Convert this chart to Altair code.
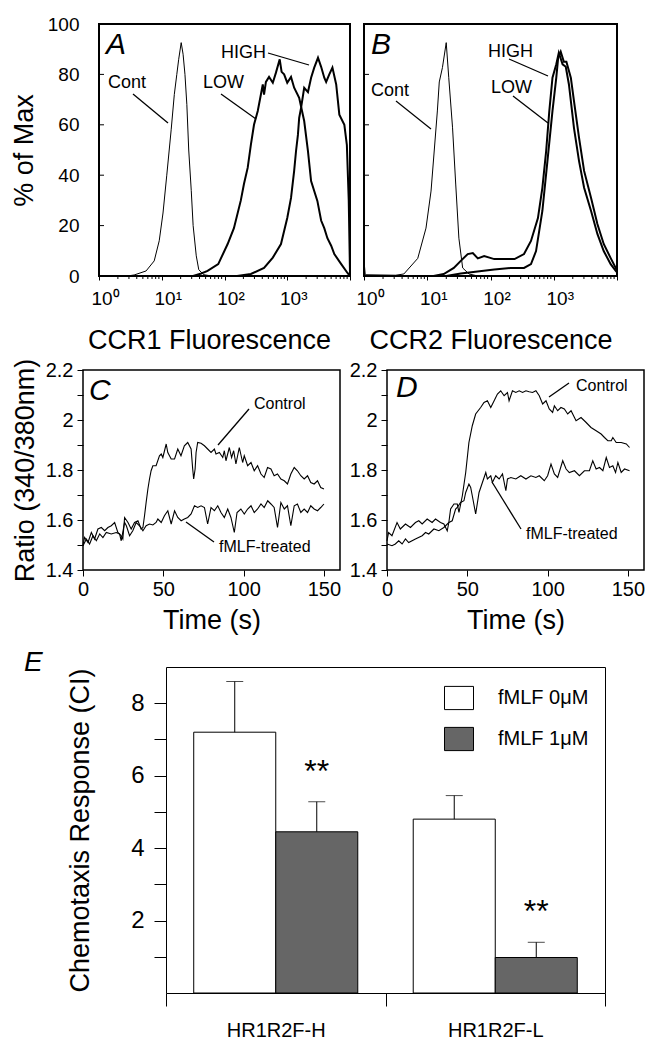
import altair as alt
import pandas as pd
import numpy as np

FONT = "Liberation Sans"

# ---------------- Panels A / B : flow cytometry histograms (x = log10 fluorescence) ----------------
cont_a = [(0, 0), (0.45, 0), (0.56, 0.4), (0.75, 2), (0.88, 6), (0.96, 14), (1.02, 25), (1.08, 40),
          (1.15, 58), (1.2, 72), (1.24, 80), (1.27, 86), (1.31, 92.6), (1.34, 88), (1.37, 80),
          (1.40, 68), (1.43, 50), (1.47, 34), (1.5, 20), (1.55, 8), (1.59, 2.5), (1.67, 0.5),
          (1.8, 0), (4, 0)]
low_a = [(0, 0), (1.5, 0), (1.63, 1), (1.73, 2), (1.9, 4.7), (2.05, 12.7), (2.15, 19), (2.26, 30),
         (2.31, 36.5), (2.37, 43), (2.42, 52), (2.47, 60), (2.53, 65.5), (2.58, 72), (2.61, 76),
         (2.63, 72), (2.66, 77), (2.71, 79), (2.77, 76.7), (2.82, 80.7), (2.88, 86), (2.91, 81),
         (2.95, 80), (3.0, 76.7), (3.06, 79), (3.11, 74.7), (3.19, 70.7), (3.27, 61.5), (3.33, 49.6),
         (3.38, 37.7), (3.48, 29.8), (3.54, 22), (3.59, 19), (3.64, 15), (3.7, 12), (3.75, 8.7),
         (3.86, 4.7), (3.96, 1.2), (4.0, 0)]
high_a = [(0, 0), (2.2, 0), (2.42, 0.8), (2.63, 3.2), (2.77, 7.3), (2.9, 12.7), (3.0, 23), (3.06, 31),
          (3.11, 41.7), (3.14, 49.6), (3.17, 56), (3.19, 62.7), (3.22, 66.7), (3.27, 74.7), (3.33, 73),
          (3.38, 78.7), (3.43, 82.7), (3.49, 86.6), (3.54, 83), (3.59, 78.7), (3.62, 77), (3.67, 80),
          (3.72, 82.7), (3.78, 76), (3.83, 64), (3.91, 60), (3.95, 52), (3.98, 30), (4.0, 1)]
cont_b = [(0, 6), (0.02, 0.5), (0.5, 0.3), (0.63, 0.8), (0.85, 7), (0.98, 19), (1.06, 33.7),
          (1.11, 49.6), (1.16, 65.5), (1.19, 77), (1.24, 82.7), (1.3, 92.6), (1.34, 78.7), (1.4, 58.8),
          (1.45, 36.5), (1.5, 15), (1.56, 3.2), (1.66, 0.8), (1.8, 0), (4, 0)]
low_b = [(0, 0), (1.1, 0), (1.26, 0.8), (1.42, 3.2), (1.53, 6), (1.64, 8.7), (1.72, 9.1), (1.8, 7),
         (1.9, 7.9), (2.06, 6.7), (2.22, 6.7), (2.38, 6.7), (2.53, 8.7), (2.64, 13.9), (2.75, 23),
         (2.82, 35), (2.88, 49.6), (2.93, 65.5), (2.98, 78.7), (3.04, 84), (3.08, 88.6), (3.14, 84),
         (3.19, 83), (3.24, 76), (3.32, 58.7), (3.4, 45.6), (3.48, 35), (3.59, 25.8), (3.69, 16.7),
         (3.79, 9.9), (3.9, 4.7), (3.98, 2), (4, 1.5)]
high_b = [(0, 0), (1.3, 0), (1.53, 1), (2.06, 2.6), (2.32, 3.2), (2.53, 3.2), (2.64, 4.7), (2.72, 9.9),
          (2.82, 25.8), (2.9, 45.6), (2.98, 65.5), (3.04, 78.7), (3.07, 86.6), (3.11, 89), (3.16, 85),
          (3.2, 85), (3.27, 78.7), (3.32, 69.4), (3.4, 54.8), (3.48, 41.7), (3.59, 31), (3.69, 20.6),
          (3.79, 12.7), (3.9, 7.1), (3.98, 3.2), (4, 2.5)]
decade_labels = ["10⁰", "10¹", "10²", "10³"]
pct_ticks = [0, 20, 40, 60, 80, 100]

# ---------------- Panels C / D : calcium flux traces ----------------
ctrl_c = [(0, 1.5), (1, 1.53), (3.1, 1.51), (5.2, 1.55), (7.2, 1.524), (9.3, 1.564), (11.4, 1.57),
          (13.5, 1.557), (15.5, 1.57), (17.6, 1.577), (19.7, 1.59), (21.7, 1.55), (23.8, 1.537),
          (24.8, 1.524), (25.9, 1.61), (28, 1.59), (30, 1.564), (32.1, 1.59), (34.2, 1.597),
          (36.2, 1.564), (37.3, 1.57), (38.3, 1.617), (39.3, 1.67), (40.4, 1.724), (41.4, 1.764),
          (42.4, 1.797), (43.5, 1.817), (45.5, 1.817), (47.6, 1.857), (48.7, 1.864), (49.7, 1.85),
          (51.8, 1.904), (52.8, 1.87), (54.9, 1.844), (57, 1.844), (59, 1.884), (61, 1.857),
          (63.1, 1.897), (65.2, 1.91), (67.3, 1.884), (68.3, 1.804), (68.9, 1.764), (69.8, 1.804),
          (70.4, 1.87), (71.4, 1.91), (73.5, 1.907), (75.6, 1.897), (77.6, 1.884), (79.7, 1.87),
          (81.8, 1.884), (82.8, 1.864), (84.9, 1.87), (87, 1.85), (88, 1.877), (89, 1.837),
          (91.1, 1.89), (92.5, 1.85), (93.8, 1.877), (95.2, 1.824), (97.3, 1.89), (99.4, 1.83),
          (100.4, 1.857), (102.5, 1.817), (104.6, 1.83), (106.6, 1.797), (108.7, 1.817),
          (110.8, 1.784), (112.8, 1.77), (114.9, 1.81), (117, 1.804), (119, 1.777), (121.1, 1.784),
          (123.2, 1.764), (125.3, 1.757), (127.3, 1.744), (129.4, 1.784), (131.5, 1.81),
          (133.5, 1.797), (135.6, 1.777), (137.7, 1.764), (139.8, 1.777), (141.8, 1.75),
          (143.9, 1.744), (146, 1.757), (148, 1.73), (150, 1.724)]
treat_c = [(0, 1.497), (2.1, 1.524), (4.1, 1.504), (6.2, 1.537), (8.3, 1.517), (10.4, 1.544),
           (12.4, 1.53), (14.5, 1.55), (17.6, 1.544), (20.7, 1.55), (22.8, 1.544), (23.8, 1.517),
           (25.9, 1.59), (27, 1.577), (29, 1.537), (31, 1.557), (33.1, 1.59), (35.2, 1.577),
           (37.3, 1.557), (39.3, 1.577), (41.4, 1.584), (43.5, 1.58), (45.5, 1.59), (46.6, 1.604),
           (48.7, 1.59), (50.7, 1.617), (52.8, 1.637), (54.9, 1.584), (57, 1.637), (59, 1.61),
           (61.1, 1.597), (63.1, 1.604), (65.2, 1.61), (67.3, 1.624), (69.4, 1.657), (71.4, 1.65),
           (73.5, 1.657), (75.6, 1.65), (77.6, 1.584), (79.7, 1.65), (81.8, 1.637), (83.9, 1.657),
           (85.9, 1.63), (88, 1.61), (90.1, 1.644), (92.1, 1.61), (94.2, 1.55), (95.9, 1.63),
           (98.3, 1.644), (100.4, 1.624), (102.5, 1.644), (104.6, 1.657), (106.6, 1.63),
           (108.7, 1.644), (110.8, 1.664), (112.8, 1.65), (115, 1.677), (117, 1.664), (119, 1.65),
           (121.1, 1.57), (123.2, 1.67), (125.3, 1.644), (127.3, 1.657), (129.4, 1.577),
           (131.5, 1.657), (133.5, 1.664), (135.6, 1.63), (137.7, 1.644), (139.8, 1.63),
           (141.8, 1.657), (143.9, 1.644), (146, 1.637), (148, 1.65), (150, 1.664)]
ctrl_d = [(0, 1.517), (1, 1.55), (3.1, 1.537), (6.25, 1.59), (8.3, 1.564), (11.5, 1.584), (14.6, 1.57),
          (17.7, 1.59), (19.8, 1.597), (21.9, 1.584), (25, 1.604), (28.1, 1.59), (30.2, 1.604),
          (33.3, 1.59), (35.4, 1.584), (37.5, 1.557), (38.5, 1.59), (39.6, 1.644), (41.7, 1.664),
          (43.75, 1.664), (44.8, 1.63), (46.9, 1.697), (49, 1.79), (51, 1.91), (53.1, 1.977),
          (55.2, 2.024), (58.3, 2.05), (60.4, 2.07), (62.5, 2.077), (64.6, 2.05), (66.7, 2.077),
          (68.75, 2.104), (70.8, 2.117), (72.9, 2.097), (75, 2.11), (76, 2.077), (78.1, 2.117),
          (80.2, 2.11), (82.3, 2.117), (84.4, 2.11), (86.5, 2.117), (88.5, 2.113), (90.6, 2.11),
          (92.7, 2.117), (94.8, 2.097), (96.9, 2.064), (99, 2.077), (101, 2.044), (103.1, 2.03),
          (104.2, 2.057), (106.25, 2.037), (108.3, 2.05), (110.4, 2.044), (112.5, 2.024),
          (114.6, 2.037), (117.7, 1.997), (120.8, 2.01), (124, 1.99), (127, 1.97), (130.2, 1.957),
          (133.3, 1.944), (135.4, 1.93), (137.5, 1.917), (139.6, 1.917), (140.6, 1.93),
          (142.7, 1.91), (145.8, 1.91), (149, 1.904), (151, 1.89)]
treat_d = [(0, 1.504), (3.1, 1.497), (5.2, 1.504), (7.3, 1.517), (9.4, 1.504), (11.5, 1.524),
           (13.5, 1.51), (17.7, 1.524), (21.9, 1.537), (24, 1.55), (26, 1.544), (29.2, 1.564),
           (32.3, 1.557), (35.4, 1.57), (38.5, 1.59), (40.6, 1.597), (42.7, 1.644), (43.75, 1.65),
           (45.8, 1.67), (47.9, 1.677), (49, 1.71), (51, 1.744), (52.1, 1.73), (53.1, 1.697),
           (55.2, 1.624), (57.3, 1.71), (59.4, 1.75), (61.5, 1.79), (62.5, 1.764), (64.6, 1.777),
           (65.6, 1.75), (67.7, 1.777), (69.8, 1.764), (71.9, 1.784), (74, 1.717), (75, 1.764),
           (77.1, 1.77), (80.2, 1.764), (83.3, 1.777), (86.5, 1.764), (89.6, 1.777), (92.7, 1.77),
           (94.8, 1.777), (97.9, 1.757), (100, 1.777), (102.1, 1.824), (104.2, 1.784), (106.25, 1.77),
           (109.4, 1.837), (111.5, 1.804), (113.5, 1.79), (116.7, 1.797), (119.8, 1.777),
           (122.9, 1.797), (126, 1.797), (128.1, 1.837), (130.2, 1.804), (132.3, 1.81),
           (134.4, 1.797), (136.5, 1.85), (138.5, 1.81), (140.6, 1.817), (142.3, 1.79),
           (143.75, 1.83), (145.8, 1.79), (147.9, 1.804), (151, 1.797)]
time_ticks = [0, 50, 100, 150]
ratio_ticks = [1.4, 1.5, 1.6, 1.7, 1.8, 1.9, 2.0, 2.1, 2.2]

# ---------------- Panel E : chemotaxis bars ----------------
groups = ["HR1R2F-H", "HR1R2F-L"]
conditions = ["fMLF 0μM", "fMLF 1μM"]
ci_mean = [7.2, 4.45, 4.8, 0.98]
ci_err = [1.4, 0.83, 0.65, 0.42]
ci_ticks = [1, 2, 3, 4, 5, 6, 7, 8]


# ---------------- helpers ----------------
def one_row():
    return pd.DataFrame({"a": [0]})


def anchor(x1, x2, y1, y2):
    # invisible layout guide that fixes the panel's bounding box
    return alt.Chart(one_row()).mark_rect(opacity=0).encode(
        x=alt.value(x1), x2=alt.value(x2), y=alt.value(y1), y2=alt.value(y2))


def spacer(w):
    return alt.Chart(one_row()).mark_rect(opacity=0).encode(
        x=alt.value(0), x2=alt.value(w), y=alt.value(0), y2=alt.value(1)
    ).properties(width=w, height=1, view=alt.ViewBackground(strokeOpacity=0, fillOpacity=0))


def text_at(txt, x, y, size, italic=False):
    return alt.Chart(pd.DataFrame({"t": [txt]})).mark_text(
        align="left", baseline="alphabetic", font=FONT, fontSize=size,
        fontStyle="italic" if italic else "normal", color="black").encode(
        x=alt.value(x), y=alt.value(y), text="t:N")


def leader(x1, y1, x2, y2, w=1.3):
    return alt.Chart(one_row()).mark_rule(color="black", strokeWidth=w).encode(
        x=alt.value(x1), y=alt.value(y1), x2=alt.value(x2), y2=alt.value(y2))


HIST_H = 252


def hist_panel(width, cont, low, high, xtitle, ytitle, letter, notes, box, title_x=None):
    xsc = alt.Scale(domain=[0, 4], nice=False, zero=False)
    ysc = alt.Scale(domain=[0, 100], nice=False)
    label_expr = " : ".join(
        f"datum.value == {i} ? '{s}'" for i, s in enumerate(decade_labels)) + " : ''"
    xkw = dict(values=[0, 1, 2, 3, 4], labelExpr=label_expr, labelFontSize=19, labelPadding=9,
               tickSize=4, tickColor="black", domain=False, grid=False, labelFlush=False,
               labelOverlap=False, labelOffset=6, title=xtitle, titleFontSize=27, titlePadding=19)
    if title_x is not None:
        xkw["titleX"] = title_x
    xaxis = alt.Axis(**xkw)
    if ytitle:
        yaxis = alt.Axis(values=pct_ticks, labelFontSize=19, labelPadding=20, ticks=False, tickSize=0,
                         domain=False, grid=False, labelFlush=False, title=ytitle, titleFontSize=27,
                         titlePadding=9)
    else:
        yaxis = None
    layers = []
    for pairs, w in [(cont, 1), (low, 2), (high, 2)]:
        df = pd.DataFrame(pairs, columns=["lx", "pct"])
        layers.append(alt.Chart(df).mark_line(color="black", strokeWidth=w).encode(
            x=alt.X("lx:Q", scale=xsc, axis=xaxis),
            y=alt.Y("pct:Q", scale=ysc, axis=yaxis)))
    layers.append(alt.Chart(pd.DataFrame({"pct": pct_ticks[1:-1]})).mark_rule(
        color="black", strokeWidth=1).encode(
        y=alt.Y("pct:Q", scale=ysc, axis=yaxis), x=alt.value(0), x2=alt.value(5)))
    minor = [d + float(np.log10(k)) for d in range(4) for k in range(2, 10)]
    layers.append(alt.Chart(pd.DataFrame({"lx": minor})).mark_rule(
        color="black", strokeWidth=1).encode(
        x=alt.X("lx:Q", scale=xsc, axis=xaxis), y=alt.value(HIST_H), y2=alt.value(HIST_H + 3)))
    layers.append(text_at(letter[0], letter[1], letter[2], 30, italic=True))
    for kind, *args in notes:
        if kind == "t":
            layers.append(text_at(args[0], args[1], args[2], 18))
        else:
            layers.append(leader(*args))
    layers.append(anchor(*box))
    return alt.layer(*layers).properties(
        width=width, height=HIST_H,
        view=alt.ViewBackground(stroke="black", strokeWidth=2, fill="white"))


RATIO_W, RATIO_H = 257, 200


def ratio_panel(ctrl, treat, ytitle, letter, notes, box):
    xsc = alt.Scale(domain=[0, 160], nice=False)
    ysc = alt.Scale(domain=[1.4, 2.2], nice=False, zero=False)
    xaxis = alt.Axis(values=time_ticks, labelFontSize=20, tickSize=6, labelPadding=3,
                     tickColor="black", domain=False, grid=False, labelFlush=False,
                     title="Time (s)", titleFontSize=27, titlePadding=8)
    ykw = dict(values=ratio_ticks,
               labelExpr="round(datum.value * 10) % 2 == 0 ? format(datum.value, '~g') : ''",
               labelFontSize=20, tickSize=6, labelPadding=4, tickColor="black", domain=False,
               grid=False, labelFlush=False)
    if ytitle:
        ykw.update(title=ytitle, titleFontSize=27, titlePadding=6)
    else:
        ykw["title"] = None
    yaxis = alt.Axis(**ykw)
    layers = []
    for pairs in (ctrl, treat):
        df = pd.DataFrame(pairs, columns=["t", "v"])
        layers.append(alt.Chart(df).mark_line(color="black", strokeWidth=1.1).encode(
            x=alt.X("t:Q", scale=xsc, axis=xaxis),
            y=alt.Y("v:Q", scale=ysc, axis=yaxis)))
    layers.append(text_at(letter[0], letter[1], letter[2], 30, italic=True))
    for kind, *args in notes:
        if kind == "t":
            layers.append(text_at(args[0], args[1], args[2], 16))
        else:
            layers.append(leader(*args))
    layers.append(anchor(*box))
    return alt.layer(*layers).properties(
        width=RATIO_W, height=RATIO_H,
        view=alt.ViewBackground(stroke="black", strokeWidth=1.5, fill="white"))


# ---------------- build panels ----------------
panel_a = hist_panel(
    251, cont_a, low_a, high_a, "CCR1 Fluorescence", "% of Max", ("A", 7, 30),
    [("t", "Cont", 9, 63.5), ("l", 34, 70, 69, 99),
     ("t", "LOW", 104, 63.5), ("l", 122, 70, 157, 95),
     ("t", "HIGH", 122, 33.5), ("l", 169, 29, 210, 41)],
    (-90, 256, -15, 345), title_x=110)

panel_b = hist_panel(
    253, cont_b, low_b, high_b, "CCR2 Fluorescence", None, ("B", 7, 30),
    [("t", "Cont", 7, 71.5), ("l", 32, 77, 67, 105),
     ("t", "HIGH", 124, 32.5), ("l", 145, 35, 184, 52),
     ("t", "LOW", 127, 68.5), ("l", 149, 72, 184, 99)],
    (-20, 280, -15, 345))

panel_c = ratio_panel(
    ctrl_c, treat_c, "Ratio (340/380nm)", ("C", 6, 30),
    [("t", "Control", 171, 38.7), ("l", 166, 39, 135, 75),
     ("t", "fMLF-treated", 136, 181.7), ("l", 103, 152, 131, 172)],
    (-74, 262, -32, 296))

panel_d = ratio_panel(
    ctrl_d, treat_d, None, ("D", 9, 27),
    [("t", "Control", 189, 20.7), ("l", 182, 13, 162, 27),
     ("t", "fMLF-treated", 139, 168.7), ("l", 105, 112, 134, 159)],
    (-46, 257, -32, 296))

# panel E
E_H = 326
bar_df = pd.DataFrame({
    "group": [g for g in groups for _ in conditions],
    "cond": conditions * len(groups),
    "mean": ci_mean,
    "err": ci_err,
})
bar_df["top"] = bar_df["mean"] + bar_df["err"]
star_df = bar_df[bar_df["cond"] == conditions[1]]

xenc = alt.X("group:N", sort=groups, scale=alt.Scale(paddingInner=0, paddingOuter=0),
             axis=alt.Axis(title=None, tickBand="extent", tickSize=13, tickColor="black",
                           labelFontSize=20, labelPadding=14, labelAngle=0, domain=False, grid=False))
xoff = alt.XOffset("cond:N", sort=conditions, scale=alt.Scale(paddingInner=0, paddingOuter=0.338))
ysc_e = alt.Scale(domain=[0, 9], nice=False)
yaxis_e = alt.Axis(values=ci_ticks, labelExpr="datum.value % 2 == 0 ? datum.label : ''",
                   labelFontSize=24, tickSize=12, labelPadding=10, tickColor="black", domain=False,
                   grid=False, title="Chemotaxis Response (CI)", titleFontSize=27, titlePadding=36)

bars = alt.Chart(bar_df).mark_bar(stroke="black", strokeWidth=1).encode(
    x=xenc, xOffset=xoff,
    y=alt.Y("mean:Q", scale=ysc_e, axis=yaxis_e),
    fill=alt.Fill("cond:N", sort=conditions,
                  scale=alt.Scale(domain=conditions, range=["white", "#666666"]),
                  legend=alt.Legend(title=None, orient="none", legendX=278, legendY=16,
                                    symbolType="M-1,-0.8H1V0.8H-1Z", symbolSize=841,
                                    symbolStrokeColor="black", symbolStrokeWidth=1,
                                    labelFontSize=20, labelFont=FONT, labelColor="black",
                                    rowPadding=12, labelOffset=24, padding=0)))
err_lines = alt.Chart(bar_df).mark_rule(color="black", strokeWidth=1).encode(
    x=xenc, xOffset=xoff, y=alt.Y("mean:Q", scale=ysc_e, axis=yaxis_e), y2="top:Q")
err_caps = alt.Chart(bar_df).mark_tick(color="black", thickness=1, size=17, orient="horizontal").encode(
    x=xenc, xOffset=xoff, y=alt.Y("top:Q", scale=ysc_e, axis=yaxis_e))
stars = alt.Chart(star_df).mark_text(text="**", font=FONT, fontSize=32, baseline="alphabetic",
                                      dy=-20, color="black").encode(
    x=xenc, xOffset=xoff, y=alt.Y("top:Q", scale=ysc_e, axis=yaxis_e))

panel_e = alt.layer(
    bars, err_lines, err_caps, stars,
    text_at("E", -142, 4, 28, italic=True),
    anchor(-156, 476, -24, 366),
).properties(width=439, height=E_H,
             view=alt.ViewBackground(stroke="black", strokeWidth=1, fill="white"))

row1 = alt.hconcat(spacer(14), panel_a, panel_b, spacing=-14)
row2 = alt.hconcat(spacer(6), panel_c, panel_d, spacing=-6)
row3 = alt.hconcat(spacer(1), panel_e, spacing=0).resolve_scale(fill="independent")

top_rows = alt.vconcat(row1, row2, spacing=-34)
chart = alt.vconcat(top_rows, row3, spacing=-42, padding=0).resolve_scale(
    fill="independent"
).configure(
    font=FONT
).configure_axis(
    labelFont=FONT, titleFont=FONT, titleFontWeight="normal",
    labelColor="black", titleColor="black"
)

chart.save("out.html", embed_options={"renderer": "svg", "actions": False})
